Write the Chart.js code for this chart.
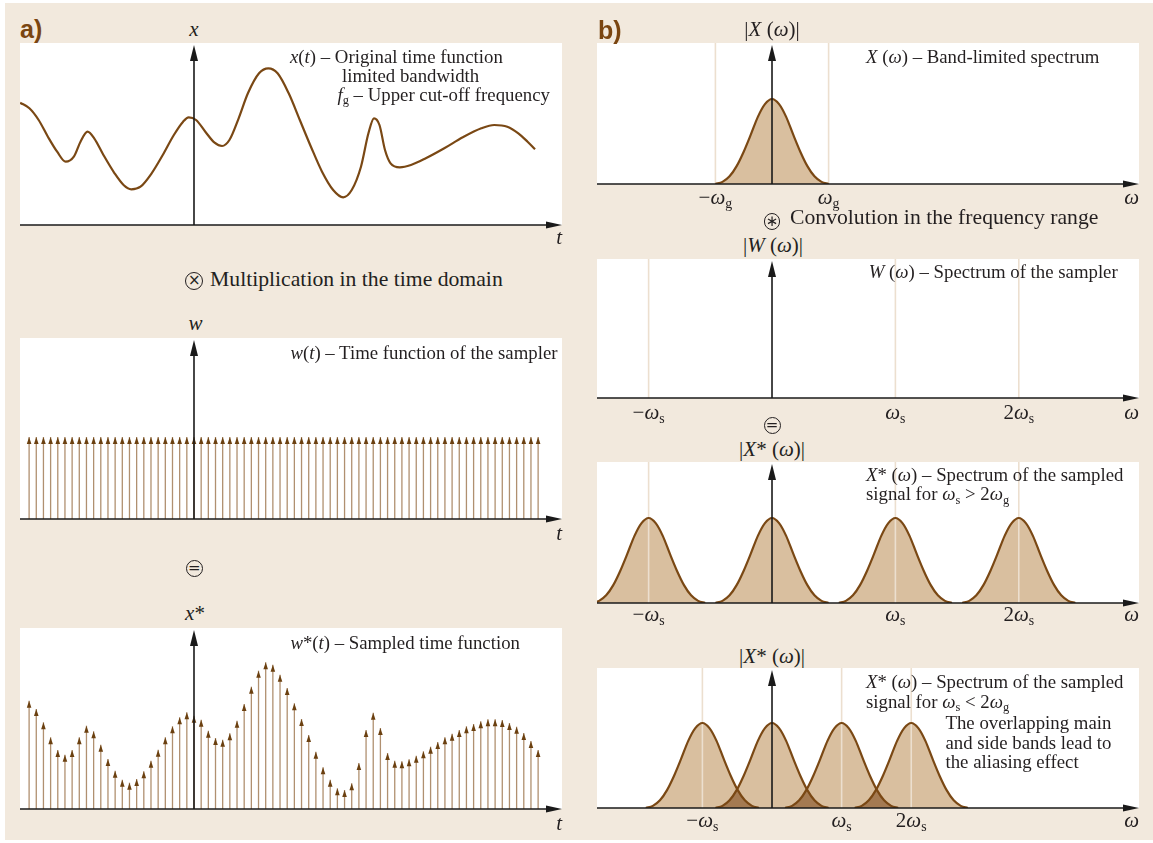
<!DOCTYPE html>
<html lang="en">
<head>
<meta charset="utf-8">
<title>Sampling: time domain and frequency domain</title>
<script src="https://cdn.jsdelivr.net/npm/chart.js@4.4.1/dist/chart.umd.min.js"></script>
<style>
  html, body { margin: 0; padding: 0; }
  body { position: relative; width: 1153px; height: 843px; overflow: hidden; background: #ffffff; }
  #sheet { position: absolute; left: 5px; top: 3px; width: 1148px; height: 837px; background: #f2e9dd; }
  canvas.pane { position: absolute; display: block; }
  .txt { position: absolute; white-space: nowrap; line-height: 1; color: #231f20;
         font-family: "Liberation Serif", "Times New Roman", serif; }
  .txt i { font-style: italic; }
  .sb { font-size: 0.66em; position: relative; top: 0.28em; font-style: normal; }
  .tag { font-family: "Liberation Sans Narrow", "Liberation Sans", sans-serif; font-weight: bold; color: #7a4510; }
  .op { position: absolute; box-sizing: border-box; border: 1.4px solid #231f20; border-radius: 50%;
        display: flex; align-items: center; justify-content: center; line-height: 1;
        font-family: "DejaVu Sans", sans-serif; color: #231f20; }
</style>
</head>
<body>
<div id="sheet"></div>
<script>
// ---------------- time domain ----------------
// continuous signal x(t); t in sampling periods, x in amplitude units
const curveT = [-24.25, -22.96, -21.67, -20.38, -19.09, -17.90, -16.76, -15.83, -14.85, -13.92,
                -12.63, -11.08, -9.79, -8.75, -7.46, -5.91, -4.36, -2.81, -1.52, -0.74,
                0.29, 1.58, 2.87, 3.91, 4.94, 6.23, 7.52, 9.07, 10.37, 11.66,
                13.21, 14.76, 16.31, 17.86, 19.41, 20.81, 22.0, 23.29, 24.33, 25.1,
                25.87, 26.64, 27.42, 28.71, 30.26, 32.33, 34.91, 37.49, 40.08, 41.88,
                43.7, 45.24, 46.53, 47.57];
const curveX = [122.3, 116.7, 105, 88.3, 73.3, 63.3, 68.3, 83.3, 93.3, 86.7,
                70, 51.7, 39.7, 35.7, 38.3, 51.7, 70, 90, 103.3, 107.7,
                105, 93.3, 82.3, 79, 85, 106.7, 131.7, 151.7, 156.7, 151.7,
                131.7, 105, 78.3, 53.3, 35, 27.7, 35, 58.3, 91.7, 106.7,
                100, 75, 61.7, 57.7, 60, 66.7, 76.7, 87.7, 96.7, 100,
                98.3, 91.7, 83.3, 75.7];

// sampling instants (sample numbers) and impulse weights
const firstSample = -23, lastSample = 48;
const samplerWeight = 82;
const sampledX = [108.3, 100, 86.7, 71.7, 59, 54.3, 59, 71.7, 83.3, 77.7,
                  64.3, 50, 38.3, 29.3, 26.3, 30, 37.7, 48.3, 59.3, 71.7,
                  82.7, 91.7, 96.7, 93.3, 89.3, 78.3, 71, 69.3, 75.7, 88.3,
                  105, 122.3, 138.3, 146.7, 144.3, 134.3, 121, 105.7, 90, 74,
                  57.3, 41.7, 29.3, 20.7, 19, 25.7, 46, 79, 96.3, 81,
                  56, 48.3, 47.7, 49.7, 53.3, 57.7, 62.3, 67, 71.7, 75.3,
                  79, 82.7, 85, 87.7, 89.7, 89.7, 89, 86, 82.3, 76,
                  68, 59];

// ---------------- frequency domain (ω in units of ω_g) ----------------
const bandOffset = [-1, -0.875, -0.75, -0.625, -0.5, -0.375, -0.25, -0.125, 0,
                    0.125, 0.25, 0.375, 0.5, 0.625, 0.75, 0.875, 1];
const bandShape  = [0, 0.025, 0.09, 0.21, 0.38, 0.58, 0.79, 0.94, 1,
                    0.94, 0.79, 0.58, 0.38, 0.21, 0.09, 0.025, 0];
const omegaSWide = 2.18;     // ω_s > 2 ω_g
const omegaSNarrow = 1.23;   // ω_s < 2 ω_g
const replicaOrders = [-1, 0, 1, 2];
const markedOrders = [-1, 1, 2];
const markedText = ['−<i>ω</i><span class="sb">s</span>', '<i>ω</i><span class="sb">s</span>', '2<i>ω</i><span class="sb">s</span>'];
const bandEdges = [-1, 1];
const bandEdgeText = ['−<i>ω</i><span class="sb">g</span>', '<i>ω</i><span class="sb">g</span>'];

// ---------------- styling ----------------
const BROWN = '#7a4814', FILL = '#d9bf9f', OVERLAP = '#a47a52', REF = '#ecdfcf',
      STEM = '#b09070', HEAD = '#6b4010', AXIS = '#1a1a1a';

const framePlugin = {
  id: 'frame',
  beforeDraw(chart) {
    const { ctx, chartArea: a } = chart;
    ctx.save();
    ctx.fillStyle = '#ffffff';
    ctx.fillRect(a.left, a.top, a.right - a.left, a.bottom - a.top);
    ctx.restore();
  },
  beforeDatasetsDraw(chart, args, o) {
    const { ctx, chartArea: a, scales: { x } } = chart;
    ctx.save();
    ctx.beginPath();
    ctx.rect(a.left, a.top, a.right - a.left, a.bottom - a.top);
    ctx.clip();
    if (o.overlap) {
      // darker area where neighbouring bands overlap
      const n = chart.data.datasets.length;
      for (let i = 0; i + 1 < n; i++) {
        const la = chart.getDatasetMeta(i).dataset, lb = chart.getDatasetMeta(i + 1).dataset;
        ctx.save();
        ctx.beginPath(); lb.path(ctx); ctx.closePath(); ctx.clip();
        ctx.beginPath(); la.path(ctx); ctx.closePath();
        ctx.fillStyle = o.overlap; ctx.fill();
        ctx.restore();
      }
    }
    if (o.refLines) {
      ctx.strokeStyle = REF; ctx.lineWidth = 1.6;
      for (const v of o.refLines) {
        const px = x.getPixelForValue(v);
        ctx.beginPath(); ctx.moveTo(px, a.top); ctx.lineTo(px, a.bottom); ctx.stroke();
      }
    }
    ctx.restore();
  },
  afterDatasetsDraw(chart, args, o) {
    const { ctx, chartArea: a, scales: { x, y } } = chart;
    ctx.save();
    if (o.heads) {
      ctx.fillStyle = HEAD;
      chart.data.datasets.forEach((d, i) => {
        const meta = chart.getDatasetMeta(i);
        if (meta.type !== 'bar') return;
        for (const el of meta.data) {
          ctx.beginPath();
          ctx.moveTo(el.x, el.y);
          ctx.lineTo(el.x - 2.3, el.y + 7);
          ctx.lineTo(el.x + 2.3, el.y + 7);
          ctx.closePath(); ctx.fill();
        }
      });
    }
    const x0 = x.getPixelForValue(0), y0 = y.getPixelForValue(0);
    ctx.strokeStyle = AXIS; ctx.fillStyle = AXIS; ctx.lineWidth = 1.6;
    ctx.beginPath(); ctx.moveTo(a.left, y0); ctx.lineTo(a.right - 10, y0); ctx.stroke();
    ctx.beginPath(); ctx.moveTo(a.right, y0); ctx.lineTo(a.right - 16, y0 - 3.5); ctx.lineTo(a.right - 16, y0 + 3.5); ctx.closePath(); ctx.fill();
    ctx.beginPath(); ctx.moveTo(x0, y0); ctx.lineTo(x0, a.top + 12); ctx.stroke();
    ctx.beginPath(); ctx.moveTo(x0, a.top + 2); ctx.lineTo(x0 - 4, a.top + 18); ctx.lineTo(x0 + 4, a.top + 18); ctx.closePath(); ctx.fill();
    ctx.restore();
  }
};

function panel(box, xr, yMax, type, datasets, frame) {
  const padB = 5;
  const cv = document.createElement('canvas');
  cv.className = 'pane';
  cv.width = box.w; cv.height = box.h + padB;
  cv.style.left = box.x + 'px'; cv.style.top = box.y + 'px';
  cv.style.width = box.w + 'px'; cv.style.height = (box.h + padB) + 'px';
  document.body.appendChild(cv);
  const chart = new Chart(cv, {
    type,
    data: { datasets },
    options: {
      responsive: false, animation: false, devicePixelRatio: 1, events: [],
      layout: { padding: { left: 0, right: 0, top: 0, bottom: padB } },
      scales: {
        x: { type: 'linear', min: xr[0], max: xr[1], display: false, offset: false },
        y: { type: 'linear', min: 0, max: yMax, display: false }
      },
      plugins: {
        legend: { display: false }, tooltip: { enabled: false },
        filler: { drawTime: 'beforeDatasetsDraw' },
        frame
      }
    },
    plugins: [framePlugin]
  });
  chart.box = box;
  return chart;
}

function put(html, x, base, size, align, cls) {
  const d = document.createElement('div');
  d.className = 'txt' + (cls ? ' ' + cls : '');
  d.style.fontSize = size + 'px';
  d.style.left = x + 'px';
  d.style.top = (base - (cls === 'tag' ? 0.8465 : 0.8375) * size) + 'px';
  if (align === 'center') d.style.transform = 'translateX(-50%)';
  if (align === 'right') d.style.transform = 'translateX(-100%)';
  d.innerHTML = html;
  document.body.appendChild(d);
}

function op(sym, cx, cy, dia, fs) {
  const d = document.createElement('div');
  d.className = 'op';
  d.style.left = (cx - dia / 2) + 'px'; d.style.top = (cy - dia / 2) + 'px';
  d.style.width = dia + 'px'; d.style.height = dia + 'px';
  d.style.fontSize = fs + 'px';
  d.textContent = sym;
  document.body.appendChild(d);
}

const axisX = (c) => c.box.x + c.scales.x.getPixelForValue(0);
const pxX = (c, v) => c.box.x + c.scales.x.getPixelForValue(v);

// ---------------- left column: time domain ----------------
const tRange = [-24.27, 51.33];
const sampleT = [];
for (let n = firstSample; n <= lastSample; n++) sampleT.push(n);

const stemStyle = { type: 'bar', backgroundColor: STEM, barThickness: 1.3, inflateAmount: 0, borderWidth: 0 };

const p1 = panel({ x: 20, y: 43, w: 542, h: 182 }, tRange, 182, 'line', [{
  data: curveT.map((t, i) => ({ x: t, y: curveX[i] })),
  borderColor: BROWN, borderWidth: 2.2, pointRadius: 0, fill: false,
  cubicInterpolationMode: 'monotone'
}], {});

const p2 = panel({ x: 20, y: 338, w: 542, h: 181 }, tRange, 181, 'bar', [Object.assign({
  data: sampleT.map(t => ({ x: t, y: samplerWeight }))
}, stemStyle)], { heads: true });

const p3 = panel({ x: 20, y: 628, w: 542, h: 181 }, tRange, 181, 'bar', [Object.assign({
  data: sampleT.map((t, i) => ({ x: t, y: sampledX[i] }))
}, stemStyle)], { heads: true });

// ---------------- right column: frequency domain ----------------
const wRange = [-3.092, 6.484];
function band(center) {
  return {
    type: 'line',
    data: bandOffset.map((u, i) => ({ x: center + u, y: bandShape[i] })),
    borderColor: BROWN, borderWidth: 2.2, backgroundColor: FILL,
    fill: 'origin', pointRadius: 0, cubicInterpolationMode: 'monotone'
  };
}

const r1 = panel({ x: 597, y: 43, w: 542, h: 141 }, wRange, 141 / 85, 'line',
  [band(0)], { refLines: bandEdges });
const r2 = panel({ x: 597, y: 259, w: 542, h: 139 }, wRange, 139 / 85, 'line',
  [], { refLines: markedOrders.map(k => k * omegaSWide) });
const r3 = panel({ x: 597, y: 462, w: 542, h: 141 }, wRange, 141 / 85, 'line',
  replicaOrders.map(k => band(k * omegaSWide)), { refLines: markedOrders.map(k => k * omegaSWide) });
const r4 = panel({ x: 597, y: 668, w: 542, h: 140 }, wRange, 140 / 85, 'line',
  replicaOrders.map(k => band(k * omegaSNarrow)), { refLines: markedOrders.map(k => k * omegaSNarrow), overlap: OVERLAP });

// ---------------- text ----------------
const NOTE = 18.8, HEADLINE = 21.7, AX = 21;

put('a)', 20, 38.5, 25, null, 'tag');
put('b)', 598, 39, 25, null, 'tag');

// time-domain panels
put('<i>x</i>', axisX(p1), 37, AX, 'center');
put('<i>x</i>(<i>t</i>) – Original time function', 290, 63.5, NOTE);
put('limited bandwidth', 342, 82.5, NOTE);
put('<i>f</i><span class="sb">g</span> – Upper cut-off frequency', 337.5, 101.5, NOTE);
put('<i>t</i>', 562, 245, AX, 'right');

op('×', 194.3, 280.5, 18, 15);
put('Multiplication in the time domain', 210, 287.3, HEADLINE);

put('<i>w</i>', axisX(p2) + 1.5, 331, AX, 'center');
put('<i>w</i>(<i>t</i>) – Time function of the sampler', 290.4, 359.3, NOTE);
put('<i>t</i>', 562, 541, AX, 'right');

op('=', 194.2, 568, 17, 15);

put('<i>x</i>*', axisX(p3) + 1, 621, AX, 'center');
put('<i>w</i>*(<i>t</i>) – Sampled time function', 290.4, 649.3, NOTE);
put('<i>t</i>', 562, 831, AX, 'right');

// frequency-domain panels
put('|<i>X</i> (<i>ω</i>)|', axisX(r1), 36.5, AX, 'center');
put('<i>X</i> (<i>ω</i>) – Band-limited spectrum', 866, 63.3, NOTE);
bandEdges.forEach((v, i) => put(bandEdgeText[i], pxX(r1, v), 205, AX, 'center'));
put('<i>ω</i>', 1139, 205, AX, 'right');

op('∗', 772, 221.5, 16.5, 15);
put('Convolution in the frequency range', 790, 225, HEADLINE);

put('|<i>W</i> (<i>ω</i>)|', axisX(r2) + 1, 252.5, AX, 'center');
put('<i>W</i> (<i>ω</i>) – Spectrum of the sampler', 868.7, 278.3, NOTE);
markedOrders.forEach((k, i) => put(markedText[i], pxX(r2, k * omegaSWide), 420, AX, 'center'));
put('<i>ω</i>', 1139, 420, AX, 'right');

op('=', 772, 425.5, 17, 15);

put('|<i>X</i>* (<i>ω</i>)|', axisX(r3), 457, AX, 'center');
put('<i>X</i>* (<i>ω</i>) – Spectrum of the sampled', 866, 481.7, NOTE);
put('signal for <i>ω</i><span class="sb">s</span> &gt; 2<i>ω</i><span class="sb">g</span>', 866, 501, NOTE);
markedOrders.forEach((k, i) => put(markedText[i], pxX(r3, k * omegaSWide), 622, AX, 'center'));
put('<i>ω</i>', 1139, 622, AX, 'right');

put('|<i>X</i>* (<i>ω</i>)|', axisX(r4), 663.3, AX, 'center');
put('<i>X</i>* (<i>ω</i>) – Spectrum of the sampled', 866, 688.3, NOTE);
put('signal for <i>ω</i><span class="sb">s</span> &lt; 2<i>ω</i><span class="sb">g</span>', 866, 708.3, NOTE);
put('The overlapping main', 945.5, 730, NOTE);
put('and side bands lead to', 945.5, 750, NOTE);
put('the aliasing effect', 945.5, 768.3, NOTE);
markedOrders.forEach((k, i) => put(markedText[i], pxX(r4, k * omegaSNarrow), 828, AX, 'center'));
put('<i>ω</i>', 1139, 828, AX, 'right');
</script>
</body>
</html>
